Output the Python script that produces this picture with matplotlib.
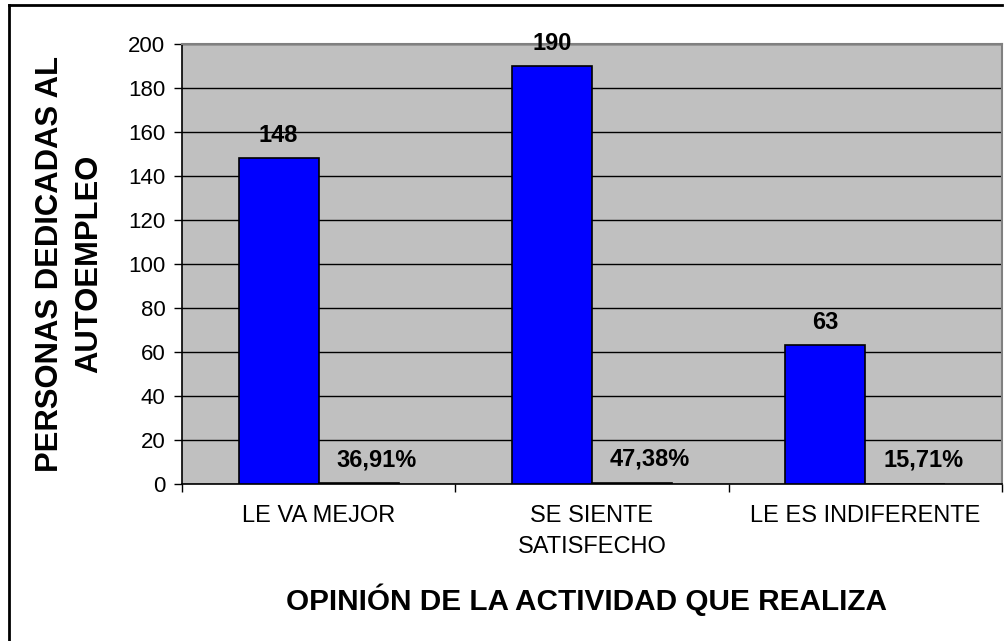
import matplotlib
matplotlib.use("Agg")
import matplotlib.pyplot as plt
import numpy as np
from matplotlib.lines import Line2D

categories = ["LE VA MEJOR", "SE SIENTE\nSATISFECHO", "LE ES INDIFERENTE"]
personas = [148, 190, 63]
porcentajes = [0.3691, 0.4738, 0.1571]
count_labels = ["148", "190", "63"]
pct_labels = ["36,91%", "47,38%", "15,71%"]
yticks = [0, 20, 40, 60, 80, 100, 120, 140, 160, 180, 200]

plt.rcParams['font.family'] = ['Liberation Sans', 'DejaVu Sans']

W, H = 1007, 641
fig = plt.figure(figsize=(W / 100, H / 100), dpi=100)
ax = fig.add_axes([182 / W, 1 - 484 / H, (1002 - 182) / W, (484 - 44) / H])
ax.set_facecolor('#C0C0C0')

x = np.arange(len(categories))
bw = 0.293
ax.bar(x - bw / 2, personas, width=bw, color='#0000FF', edgecolor='black', linewidth=1.2, zorder=3)
ax.bar(x + bw / 2, porcentajes, width=bw, color='#800000', edgecolor='black', linewidth=1.2, zorder=3)

for xi, v, lab in zip(x, personas, count_labels):
    ax.annotate(lab, (xi - bw / 2, v), xytext=(0, 16.5), textcoords='offset points',
                ha='center', va='center', fontsize=17, fontweight='bold', zorder=5)
for xi, v, lab in zip(x, porcentajes, pct_labels):
    ax.annotate(lab, (xi + bw / 2, v), xytext=(13, 17), textcoords='offset points',
                ha='center', va='center', fontsize=17, fontweight='bold', zorder=5)

ax.set_xlim(-0.5, 2.5)
ax.set_ylim(0, 200)
ax.set_yticks(yticks)
ax.set_yticklabels([str(t) for t in yticks], fontsize=16)
ax.yaxis.grid(True, color='black', linewidth=1.0, zorder=1)
ax.set_axisbelow(True)

ax.set_xticks(x)
ax.set_xticklabels(categories, fontsize=17, linespacing=1.55)
ax.set_xticks([-0.5, 0.5, 1.5, 2.5], minor=True)
ax.tick_params(axis='x', which='major', length=0, pad=15)
ax.tick_params(axis='x', which='minor', length=6, width=1, color='black', direction='out')
ax.tick_params(axis='y', length=6, width=1, color='black', direction='out', pad=6)

for s in ['top', 'right']:
    ax.spines[s].set_color('#808080')
    ax.spines[s].set_linewidth(1.5)
for s in ['left', 'bottom']:
    ax.spines[s].set_color('black')
    ax.spines[s].set_linewidth(1.2)

fig.text(70 / W, 1 - 264 / H, "PERSONAS DEDICADAS AL\nAUTOEMPLEO", rotation=90,
         ha='center', va='center', fontsize=22.3, fontweight='bold', linespacing=1.4,
         multialignment='center')
fig.text(586 / W, 1 - 600 / H, "OPINIÓN DE LA ACTIVIDAD QUE REALIZA", ha='center', va='center',
         fontsize=21.4, fontweight='bold')

# outer chart border (left and top visible)
fig.add_artist(Line2D([9 / W, 9 / W], [0, 1 - 5 / H], transform=fig.transFigure, color='black', linewidth=2))
fig.add_artist(Line2D([9 / W, 1002 / W], [1 - 5 / H, 1 - 5 / H], transform=fig.transFigure, color='black', linewidth=2))

fig.savefig("out.png", dpi=100, facecolor='white')
